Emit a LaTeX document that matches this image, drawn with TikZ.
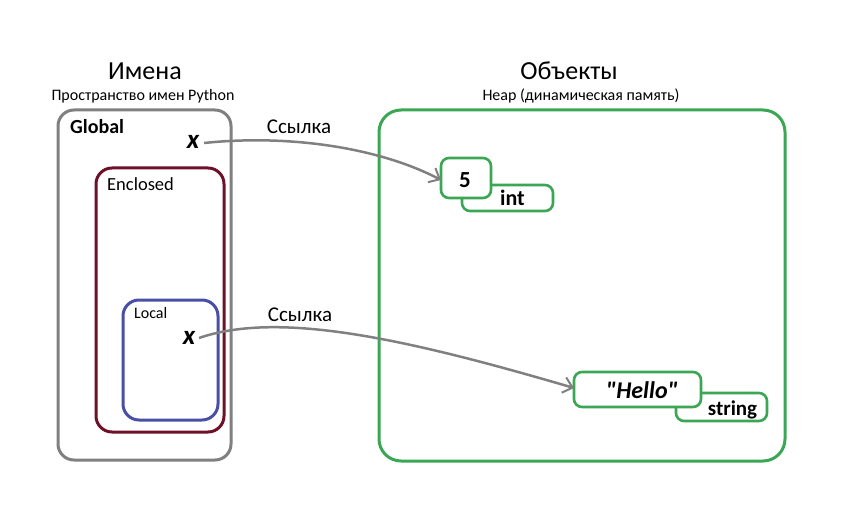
\documentclass[tikz,border=0pt]{standalone}
\usepackage{fontspec}
\setmainfont{Carlito}
\newfontfamily\plainfont{Carlito}[Ligatures=TeXOff]
\usetikzlibrary{arrows.meta}
\definecolor{cgray}{HTML}{808080}
\definecolor{cred}{HTML}{6E1028}
\definecolor{cblue}{HTML}{4A4FA6}
\definecolor{cgreen}{HTML}{3BA654}
\tikzset{
  scopebox/.style={draw, line width=3pt, rounded corners=16pt},
  objbox/.style={draw=cgreen, line width=2.6pt, rounded corners=8pt, fill=white},
  lbl/.style={inner sep=0pt, anchor=base},
  ref/.style={draw=cgray, line width=2.5pt, -{Straight Barb[length=9pt,width=16pt,line width=2pt]}},
}
\newcommand{\fs}[1]{\fontsize{#1pt}{#1pt}\selectfont}
\begin{document}
\begin{tikzpicture}[x=1pt,y=-1pt]
\useasboundingbox (0,0) rectangle (851,513);
% titles
\node[lbl] (t1) at (145,80) {\fs{26}Имена};
\node[lbl] (t1s) at (143,101) {\fs{16}Пространство имен Python};
\node[lbl] (t2) at (569,80) {\fs{26}Объекты};
\node[lbl] (t2s) at (581,101) {\fs{16}Heap (динамическая память)};
% scope boxes
\draw[scopebox, draw=cgray] (58,110) rectangle (231,460);
\draw[scopebox, draw=cred] (96,168) rectangle (224,432);
\draw[scopebox, draw=cblue] (123,300) rectangle (218,420);
\draw[scopebox, draw=cgreen, rounded corners=22pt] (379,110) rectangle (785,461);
% labels
\node[lbl, anchor=base west] (lg) at (70,134) {\fs{20}\bfseries Global};
\node[lbl, anchor=base west] (le) at (107,191) {\fs{18.5}Enclosed};
\node[lbl, anchor=base west] (ll) at (134,318) {\fs{16}Local};
\node[lbl] (x1) at (193,149) {\fs{27}\bfseries\itshape x};
\node[lbl] (x2) at (189,344) {\fs{27}\bfseries\itshape x};
% objects
\draw[objbox] (462,185) rectangle (553,211);
\node[lbl] (tint) at (512.5,206) {\fs{22}\bfseries int};
\draw[objbox] (441,158) rectangle (491,198);
\node[lbl] (v5) at (465,188) {\fs{23}\bfseries 5};
\coordinate (o5) at (441,180);
\draw[objbox] (676,393) rectangle (767,421);
\node[lbl] (tstr) at (732.5,415) {\fs{21}\bfseries string};
\draw[objbox] (574,372) rectangle (701,407);
\node[lbl] (vh) at (642,398) {\fs{24}\plainfont\bfseries\itshape "Hello"};
\coordinate (oh) at (574,388);
% references
\coordinate (s1) at (204,143);
\coordinate (s2) at (199,338);
\draw[ref] (s1) .. controls (290,134) and (380,148) .. (o5);
\draw[ref] (s2) .. controls (280,310) and (410,340) .. (oh);
\node[lbl] (r1) at (299,134) {\fs{21}Ссылка};
\node[lbl] (r2) at (300,321) {\fs{21}Ссылка};
\end{tikzpicture}
\end{document}
